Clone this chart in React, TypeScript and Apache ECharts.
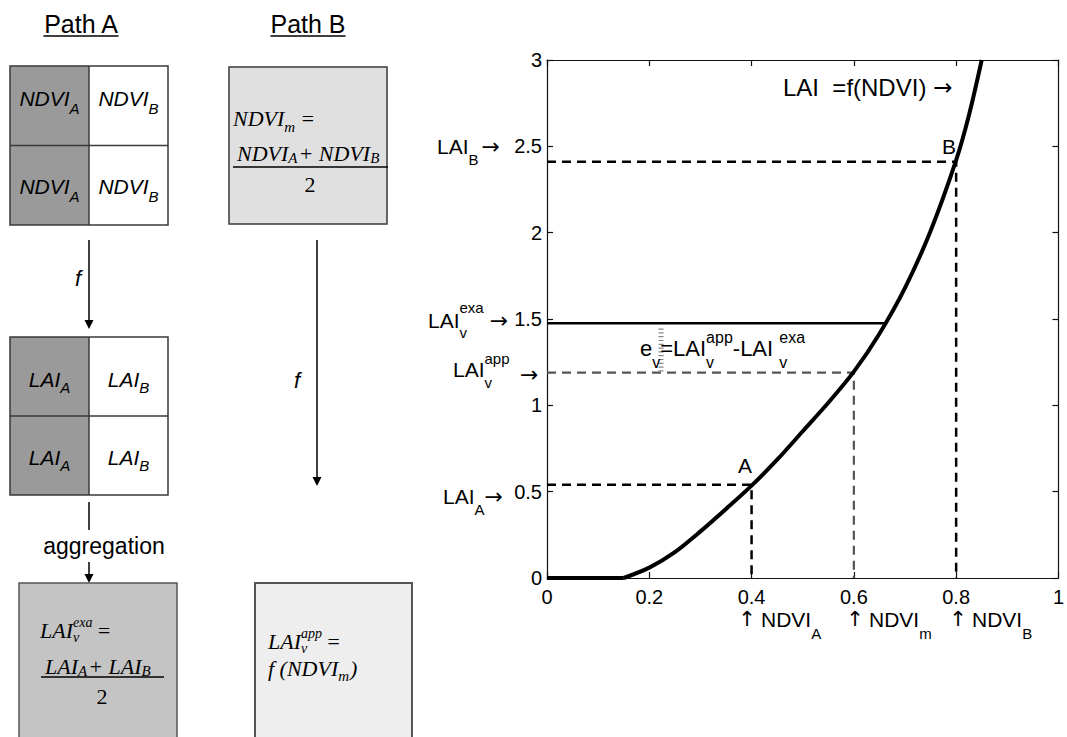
import React, { useEffect, useRef } from "react";
import * as echarts from "echarts";

// ---------------- data ----------------
const X_TICKS = [0, 0.2, 0.4, 0.6, 0.8, 1];
const Y_TICKS = [0, 0.5, 1, 1.5, 2, 2.5, 3];
// flat part of f (LAI = 0 below the NDVI threshold)
const FLAT_NDVI = [0, 0.15];
const FLAT_LAI = [0, 0];
// rising part of f
const CURVE_NDVI = [0.15, 0.2, 0.25, 0.3, 0.35, 0.4, 0.45, 0.5, 0.55, 0.6, 0.65, 0.7, 0.75, 0.8, 0.825, 0.85];
const CURVE_LAI = [0, 0.06, 0.15, 0.27, 0.4, 0.535, 0.685, 0.85, 1.015, 1.195, 1.415, 1.68, 2.01, 2.42, 2.68, 3.0];
const POINT_NAMES = ["A", "m", "B"];
const NDVI_POINTS = [0.4, 0.6, 0.8];
const LAI_POINTS = [0.54, 1.19, 2.41];
const LAI_EXA = 1.475;
const NDVI_EXA_END = 0.662;
const ERR_NDVI = 0.223;

// ---------------- helpers ----------------
const SANS = '"Liberation Sans", Arial, Helvetica, sans-serif';
const SERIF = '"Liberation Serif", "Times New Roman", serif';
const ARROWF = '"DejaVu Sans", sans-serif';

let _ctx: CanvasRenderingContext2D | null = null;
function measure(t: string, size: number, family: string, italic: boolean) {
  if (!_ctx) _ctx = document.createElement("canvas").getContext("2d");
  _ctx!.font = `${italic ? "italic " : ""}${size}px ${family}`;
  return _ctx!.measureText(t).width;
}

function T(x: number, y: number, text: string, size: number, o: any = {}) {
  const align = o.align || "left";
  return {
    type: "text",
    x,
    y,
    silent: true,
    z: 100,
    style: {
      text,
      fontSize: size,
      fontFamily: o.family || SANS,
      fontStyle: o.italic ? "italic" : "normal",
      fill: o.fill || "#000",
      textAlign: align,
      align,
      textVerticalAlign: "middle",
      verticalAlign: "middle",
    },
  };
}

type Part = { t?: string; sub?: string; sup?: string; gap?: number; arrow?: boolean };
function seq(x: number, y: number, parts: Part[], o: any) {
  const fam = o.family || SANS;
  const it = !!o.italic;
  const size = o.size;
  const ss = o.subSize;
  const mainW = (p: Part) =>
    p.t ? measure(p.t, p.arrow ? o.arrowSize || size : size, p.arrow ? ARROWF : fam, p.arrow ? false : it) : 0;
  const widthOf = (p: Part) => {
    const sw = Math.max(p.sub ? measure(p.sub, ss, fam, it) : 0, p.sup ? measure(p.sup, ss, fam, it) : 0);
    return mainW(p) + sw + (p.gap || 0);
  };
  let cx = x;
  if (o.center) {
    const total = parts.reduce((a, p) => a + widthOf(p), 0);
    cx = x - total / 2;
  }
  const els: any[] = [];
  for (const p of parts) {
    if (p.t) {
      if (p.arrow) els.push(T(cx, y + (o.arrowDy || 0), p.t, o.arrowSize || size, { family: ARROWF }));
      else els.push(T(cx, y, p.t, size, { family: fam, italic: it }));
      cx += mainW(p);
    }
    let sw = 0;
    if (p.sub) {
      els.push(T(cx, y + o.subDy, p.sub, ss, { family: fam, italic: it }));
      sw = Math.max(sw, measure(p.sub, ss, fam, it));
    }
    if (p.sup) {
      els.push(T(cx, y + o.supDy, p.sup, ss, { family: fam, italic: it }));
      sw = Math.max(sw, measure(p.sup, ss, fam, it));
    }
    cx += sw + (p.gap || 0);
  }
  return els;
}

function L(x1: number, y1: number, x2: number, y2: number, w = 1.5, c = "#000") {
  return { type: "line", silent: true, shape: { x1, y1, x2, y2 }, style: { stroke: c, lineWidth: w } };
}
function R(x: number, y: number, w: number, h: number, fill: string, stroke = "none", lw = 1.5) {
  return { type: "rect", silent: true, shape: { x, y, width: w, height: h }, style: { fill, stroke, lineWidth: lw } };
}
function arrowDown(x: number, y1: number, y2: number) {
  return [
    L(x, y1, x, y2 - 6, 1.5),
    { type: "polygon", silent: true, shape: { points: [[x - 4.5, y2 - 9], [x + 4.5, y2 - 9], [x, y2]] }, style: { fill: "#000" } },
  ];
}

function buildGraphics() {
  const g: any[] = [];
  const DARK = "#9a9a9a";
  const BORDER = "#3a3a3a";

  // titles
  for (const [cx, label] of [[81, "Path A"], [308, "Path B"]] as [number, string][]) {
    g.push(T(cx, 24, label, 25, { align: "center" }));
    const w = measure(label, 25, SANS, false);
    g.push(L(cx - w / 2, 36, cx + w / 2, 36, 1.5));
  }

  // Path A NDVI grid
  g.push(R(10, 66, 79, 159, DARK));
  g.push(R(89, 66, 79, 159, "#fff"));
  g.push(R(10, 66, 158, 159, "none", BORDER, 1.5));
  g.push(L(89, 66, 89, 225, 1.5, BORDER));
  g.push(L(10, 145.5, 168, 145.5, 1.5, BORDER));
  const cellOpt = { size: 21, subSize: 15, italic: true, subDy: 10, supDy: -10, center: true };
  g.push(...seq(49.5, 98, [{ t: "NDVI", sub: "A" }], cellOpt));
  g.push(...seq(128.5, 98, [{ t: "NDVI", sub: "B" }], cellOpt));
  g.push(...seq(49.5, 186, [{ t: "NDVI", sub: "A" }], cellOpt));
  g.push(...seq(128.5, 186, [{ t: "NDVI", sub: "B" }], cellOpt));

  // Path B NDVI_m box
  g.push(R(229, 67, 158, 157, "#e0e0e0", BORDER, 1.5));
  const fo = { size: 22, subSize: 15, italic: true, family: SERIF, subDy: 9, supDy: -7 };
  g.push(...seq(233, 118, [{ t: "NDVI", sub: "m", gap: 5 }, { t: "=" }], fo));
  g.push(...seq(237, 153, [{ t: "NDVI", sub: "A", gap: 1 }, { t: "+ " }, { t: "NDVI", sub: "B" }], { ...fo, subDy: 5 }));
  g.push(L(233, 167, 388, 167, 1.5));
  g.push(T(310, 184, "2", 22, { family: SERIF, align: "center" }));

  // arrows f
  g.push(...arrowDown(89, 240, 329));
  g.push(T(78, 278, "f", 22, { italic: true, align: "center" }));
  g.push(...arrowDown(317, 240, 486));
  g.push(T(297, 380, "f", 22, { italic: true, align: "center" }));

  // LAI grid
  g.push(R(10, 337, 79, 158, DARK));
  g.push(R(89, 337, 79, 158, "#fff"));
  g.push(R(10, 337, 158, 158, "none", BORDER, 1.5));
  g.push(L(89, 337, 89, 495, 1.5, BORDER));
  g.push(L(10, 416, 168, 416, 1.5, BORDER));
  const lo = { size: 21, subSize: 15, italic: true, subDy: 8, supDy: -10, center: true };
  g.push(...seq(49.5, 379, [{ t: "LAI", sub: "A" }], lo));
  g.push(...seq(128.5, 379, [{ t: "LAI", sub: "B" }], lo));
  g.push(...seq(49.5, 457, [{ t: "LAI", sub: "A" }], lo));
  g.push(...seq(128.5, 457, [{ t: "LAI", sub: "B" }], lo));

  // aggregation
  g.push(L(89, 502, 89, 530, 1.5));
  g.push(T(104, 546, "aggregation", 23, { align: "center" }));
  g.push(...arrowDown(89, 562, 583));

  // bottom-left box
  g.push(R(19, 583, 158, 160, "#c4c4c4", "#555", 1.5));
  const bo = { size: 22, subSize: 14, italic: true, family: SERIF, subDy: 7.5, supDy: -7.5 };
  g.push(...seq(40, 630, [{ t: "LAI", sub: "v", sup: "exa", gap: 4 }, { t: "=" }], bo));
  g.push(...seq(45, 666, [{ t: "LAI", sub: "A", gap: 1 }, { t: "+ " }, { t: "LAI", sub: "B" }], { ...bo, subSize: 15, subDy: 5 }));
  g.push(L(41, 677, 164, 677, 1.5));
  g.push(T(102, 696, "2", 22, { family: SERIF, align: "center" }));

  // bottom-right box
  g.push(R(255, 583, 157, 160, "#eeeeee", "#555", 2));
  g.push(...seq(268, 641, [{ t: "LAI", sub: "v", sup: "app", gap: 4 }, { t: "=" }], bo));
  g.push(...seq(268, 668, [{ t: "f (NDVI", sub: "m", gap: 1 }, { t: ")" }], { ...bo, subSize: 15, subDy: 8 }));

  // ---- chart annotations ----
  const ao = { size: 21, subSize: 15, subDy: 13, supDy: -13, arrowSize: 22, arrowDy: 0 };
  g.push(...seq(437, 146, [{ t: "LAI", sub: "B", gap: 3 }, { t: "→", arrow: true }], ao));
  g.push(...seq(428, 320, [{ t: "LAI", sub: "v", sup: "exa", gap: 6 }, { t: "→", arrow: true }], { ...ao, subDy: 12 }));
  g.push(...seq(453, 369, [{ t: "LAI", sub: "v", sup: "app" }], { ...ao, supDy: -11 }));
  g.push(T(520, 374, "→", 22, { family: ARROWF }));
  g.push(...seq(443, 496, [{ t: "LAI", sub: "A", gap: 0 }, { t: "→", arrow: true }], ao));

  g.push(T(745, 465, "A", 21, { align: "center" }));
  g.push(T(949, 146, "B", 21, { align: "center" }));
  g.push(T(783, 87, "LAI  =f(NDVI)", 24));
  g.push(T(783 + measure("LAI  =f(NDVI)", 24, SANS, false) + 7, 87, "→", 23, { family: ARROWF }));

  g.push(
    ...seq(
      640,
      348,
      [{ t: "e", sub: "v" }, { t: "=LAI", sub: "v", sup: "app" }, { t: "-LAI ", sub: "v", sup: "exa" }],
      { size: 22, subSize: 16, subDy: 14, supDy: -11 }
    )
  );

  const xo = { size: 21, subSize: 15, subDy: 14, supDy: -10 };
  const xs = [747, 855, 958];
  POINT_NAMES.forEach((n, i) => {
    g.push(T(xs[i], 619, "↑", 21, { align: "center", family: ARROWF }));
    g.push(...seq(xs[i] + 14, 619, [{ t: "NDVI", sub: n }], xo));
  });
  return g;
}

function buildOption() {
  const flat = FLAT_NDVI.map((x, i) => [x, FLAT_LAI[i]]);
  const curve = CURVE_NDVI.map((x, i) => [x, CURVE_LAI[i]]);
  const [nA, nM, nB] = NDVI_POINTS;
  const [lA, lApp, lB] = LAI_POINTS;
  const dash = [9, 6];
  const axisLineStyle = { color: "#111", width: 1.2 };
  const tick = { show: true, inside: true, length: 6, lineStyle: { color: "#111", width: 1.2 } };
  const lbl = { fontSize: 20, color: "#000", fontFamily: SANS };
  const common = { symbol: "none", silent: true, xAxisIndex: 0, yAxisIndex: 0, type: "line" as const };
  const xBase = {
    type: "value",
    min: X_TICKS[0],
    max: X_TICKS[X_TICKS.length - 1],
    interval: X_TICKS[1] - X_TICKS[0],
    axisLine: { show: true, onZero: false, lineStyle: axisLineStyle },
    axisTick: tick,
    splitLine: { show: false },
  };
  const yBase = {
    type: "value",
    min: Y_TICKS[0],
    max: Y_TICKS[Y_TICKS.length - 1],
    interval: Y_TICKS[1] - Y_TICKS[0],
    axisLine: { show: true, onZero: false, lineStyle: axisLineStyle },
    axisTick: tick,
    splitLine: { show: false },
  };
  return {
    animation: false,
    backgroundColor: "#fff",
    grid: { left: 547, right: 2, top: 60, bottom: 159, containLabel: false },
    xAxis: [
      { ...xBase, position: "bottom", axisLabel: { ...lbl, margin: 9 } },
      { ...xBase, position: "top", axisLabel: { show: false } },
    ],
    yAxis: [
      { ...yBase, position: "left", axisLabel: { ...lbl, margin: 5 } },
      { ...yBase, position: "right", axisLabel: { show: false } },
    ],
    series: [
      { ...common, name: "LAI_B", data: [[0, lB], [nB, lB], [nB, 0]], lineStyle: { color: "#000", width: 2.5, type: dash }, z: 3 },
      { ...common, name: "LAI_A", data: [[0, lA], [nA, lA], [nA, 0]], lineStyle: { color: "#000", width: 2.5, type: dash }, z: 3 },
      { ...common, name: "LAI_app", data: [[0, lApp], [nM, lApp], [nM, 0]], lineStyle: { color: "#555", width: 2.2, type: dash }, z: 3 },
      { ...common, name: "LAI_exa", data: [[0, LAI_EXA], [NDVI_EXA_END, LAI_EXA]], lineStyle: { color: "#000", width: 2.5, type: "solid" }, z: 3 },
      {
        ...common,
        name: "e_v",
        data: [[ERR_NDVI, LAI_EXA - 0.03], [ERR_NDVI, lApp]],
        lineStyle: { color: "#888", width: 5, type: [1.2, 2.6] },
        z: 3,
      },
      { ...common, name: "f_flat", data: flat, lineStyle: { color: "#000", width: 4 }, z: 5 },
      { ...common, name: "f", data: curve, smooth: 0.3, clip: true, lineStyle: { color: "#000", width: 4 }, z: 5 },
    ],
    graphic: { elements: buildGraphics() },
  };
}

export default function App() {
  const ref = useRef<HTMLDivElement>(null);
  useEffect(() => {
    if (!ref.current) return;
    const chart = echarts.init(ref.current, undefined, { renderer: "svg", width: 1067, height: 737 });
    chart.setOption(buildOption() as any);
    return () => chart.dispose();
  }, []);
  return (
    <div
      ref={ref}
      style={{ position: "absolute", left: 0, top: 0, width: 1067, height: 737, background: "#fff" }}
    />
  );
}
